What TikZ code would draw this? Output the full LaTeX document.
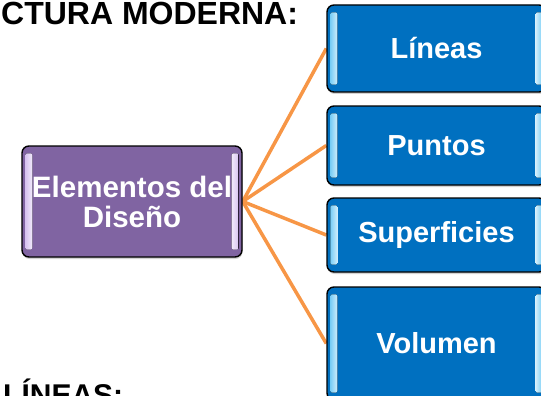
\documentclass[tikz,border=0pt]{standalone}
\usepackage{fontspec}
\setmainfont{Liberation Sans}
\usetikzlibrary{shadows,backgrounds}
\definecolor{boxblue}{RGB}{0,112,192}
\definecolor{hlblue}{RGB}{120,205,245}
\definecolor{boxpurple}{RGB}{128,100,162}
\definecolor{hlpurple}{RGB}{215,195,240}
\definecolor{connorange}{RGB}{247,150,70}
\tikzset{
  bluebox/.style={draw=black, line width=1.4pt, rounded corners=7pt, fill=boxblue,
    text=white, font=\bfseries\fontsize{29}{31}\selectfont, align=center,
    drop shadow={shadow xshift=0.5pt, shadow yshift=-2pt, opacity=0.35}},
  purplebox/.style={draw=black, line width=1.4pt, rounded corners=7pt, fill=boxpurple,
    text=white, font=\bfseries\fontsize{29.5}{30}\selectfont, align=center, inner xsep=0pt,
    drop shadow={shadow xshift=0.5pt, shadow yshift=-2pt, opacity=0.35}},
  conn/.style={draw=connorange, line width=3.5pt},
  titletext/.style={font=\bfseries\fontsize{32}{32}\selectfont, inner sep=0pt, anchor=base west}
}
\newcommand{\hlstrips}[2]{%
  \fill[rounded corners=2pt, left color=#2, right color=#2!35!white] ([xshift=4pt,yshift=-8pt]#1.north west) rectangle ([xshift=11pt,yshift=8pt]#1.south west);
  \fill[rounded corners=2pt, right color=#2, left color=#2!35!white] ([xshift=-11pt,yshift=-8pt]#1.north east) rectangle ([xshift=-4pt,yshift=8pt]#1.south east);
}
\begin{document}
\begin{tikzpicture}[x=1pt,y=-1pt]
\useasboundingbox (0,0) rectangle (541,396);
\clip (0,0) rectangle (541,396);
\node[titletext] (title) at (1,25) {CTURA MODERNA:};
\node[titletext, font=\bfseries\fontsize{30}{30}\selectfont] (sub) at (3,405) {LÍNEAS:};

\node[purplebox, minimum width=220pt, minimum height=111pt] (p) at (132,201.5) {Elementos del\\Diseño};
\node[bluebox, minimum width=219pt, minimum height=87pt] (b1) at (436.5,48.5) {Líneas};
\node[bluebox, minimum width=219pt, minimum height=79pt] (b2) at (436.5,145.5) {Puntos};
\node[bluebox, minimum width=219pt, minimum height=74pt] (b3) at (436.5,235) {Superficies};
\node[bluebox, minimum width=219pt, minimum height=113pt] (b4) at (436.5,343.5) {Volumen};

\begin{scope}[on background layer]
\draw[conn] (p.east) -- (b1.west);
\draw[conn] (p.east) -- (b2.west);
\draw[conn] (p.east) -- (b3.west);
\draw[conn] (p.east) -- (b4.west);
\end{scope}

\hlstrips{p}{hlpurple}
\hlstrips{b1}{hlblue}
\hlstrips{b2}{hlblue}
\hlstrips{b3}{hlblue}
\hlstrips{b4}{hlblue}
\end{tikzpicture}
\end{document}
